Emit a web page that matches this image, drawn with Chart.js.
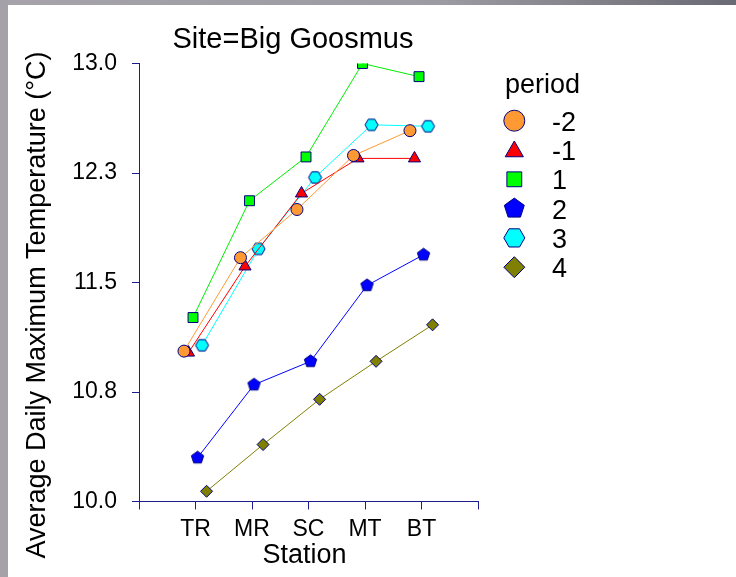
<!DOCTYPE html>
<html>
<head>
<meta charset="utf-8">
<script src="https://cdn.jsdelivr.net/npm/chart.js"></script>
<style>
  body { margin: 0; background: #fff; }
  #wrap { position: relative; width: 736px; height: 577px; overflow: hidden; }
  #topBar { position: absolute; left: 0; top: 0; width: 736px; height: 5px; background: linear-gradient(to right, #a6a4aa, #9c9aa2 60%, #6a6a74); }
  #leftBar { position: absolute; left: 0; top: 0; width: 8px; height: 577px; background: #a4a2a8; }
</style>
</head>
<body>
<div id="wrap">
  <canvas id="myChart" width="736" height="577"></canvas>
  <div id="topBar"></div>
  <div id="leftBar"></div>
</div>
<script>
const stations = ["TR", "MR", "SC", "MT", "BT"];
const periods = ["-2", "-1", "1", "2", "3", "4"];

const tempM2 = [11.03, 11.67, 12.00, 12.37, 12.54];
const tempM1 = [11.02, 11.61, 12.11, 12.35, 12.35];
const temp1 = [11.26, 12.06, 12.36, 13.00, 12.91];
const temp2 = [10.30, 10.80, 10.96, 11.48, 11.69];
const temp3 = [11.07, 11.73, 12.22, 12.58, 12.57];
const temp4 = [10.07, 10.39, 10.70, 10.96, 11.21];

const yTicks = [10.0, 10.75, 11.5, 12.25, 13.0];

const navy = "#000080";
const axisColor = "#1c1c8c";
const font = "'Liberation Sans', Arial, sans-serif";

// marker polygons for shapes Chart.js has no built-in style for
function makePoly(sides, r, fill, start) {
    const c = document.createElement("canvas");
    const size = Math.ceil(r * 2 + 4);
    c.width = size;
    c.height = size;
    const ctx = c.getContext("2d");
    drawPolyPath(ctx, size / 2, size / 2, sides, r, start);
    ctx.fillStyle = fill;
    ctx.fill();
    ctx.strokeStyle = navy;
    ctx.lineWidth = 1;
    ctx.stroke();
    return c;
}

function drawPolyPath(ctx, x, y, sides, r, start) {
    ctx.beginPath();
    for (let i = 0; i < sides; i++) {
        let a = start + (i * 2 * Math.PI) / sides;
        let px = x + r * Math.cos(a);
        let py = y + r * Math.sin(a);
        if (i == 0) ctx.moveTo(px, py);
        else ctx.lineTo(px, py);
    }
    ctx.closePath();
}

const series = [
    { values: tempM2, line: "#ff9933", fill: "#ff9933", style: "circle", radius: 6 },
    { values: tempM1, line: "#ff0000", fill: "#ff0000", style: "triangle", radius: 7 },
    { values: temp1, line: "#00ee00", fill: "#00ff00", style: "rect", radius: 7 },
    { values: temp2, line: "#0000ff", fill: "#0000ff", style: makePoly(5, 6.5, "#0000ff", -Math.PI / 2), radius: 6.5 },
    { values: temp3, line: "#00ffff", fill: "#00ffff", style: makePoly(6, 6.5, "#00ffff", 0), radius: 6.5 },
    { values: temp4, line: "#808000", fill: "#808000", style: "rectRot", radius: 6 },
];

const datasets = series.map((s, i) => {
    const dodge = (i - 2.55) * 0.08;
    return {
        label: periods[i],
        data: s.values.map((v, j) => ({ x: j + 1 + dodge, y: v })),
        borderColor: s.line,
        borderWidth: 1,
        backgroundColor: s.fill,
        pointStyle: s.style,
        pointRadius: s.radius,
        pointBackgroundColor: s.fill,
        pointBorderColor: navy,
        pointBorderWidth: 1,
        showLine: true,
        tension: 0,
    };
});

// legend markers, drawn bigger than the plot markers
function legendMarker(ctx, i, x, y) {
    const r = 10.5;
    ctx.save();
    ctx.fillStyle = series[i].fill;
    ctx.strokeStyle = navy;
    ctx.lineWidth = 1;
    if (i == 0) {
        ctx.beginPath();
        ctx.arc(x, y, r, 0, Math.PI * 2);
    } else if (i == 1) {
        drawPolyPath(ctx, x, y + 1.5, 3, r, -Math.PI / 2);
    } else if (i == 2) {
        drawPolyPath(ctx, x, y, 4, r, Math.PI / 4);
    } else if (i == 3) {
        drawPolyPath(ctx, x, y, 5, r, -Math.PI / 2);
    } else if (i == 4) {
        drawPolyPath(ctx, x, y, 6, r, 0);
    } else {
        drawPolyPath(ctx, x, y, 4, r, 0);
    }
    ctx.fill();
    ctx.stroke();
    ctx.restore();
}

const textPlugin = {
    id: "texts",
    afterDraw(chart) {
        const ctx = chart.ctx;
        ctx.save();
        ctx.fillStyle = "#000";
        ctx.textAlign = "center";
        ctx.textBaseline = "alphabetic";
        ctx.font = "29px " + font;
        ctx.fillText("Site=Big Goosmus", 293, 48);

        ctx.font = "27px " + font;
        ctx.fillText("Station", 304.5, 563);

        ctx.save();
        ctx.translate(45, 305);
        ctx.rotate(-Math.PI / 2);
        ctx.fillText("Average Daily Maximum Temperature (°C)", 0, 0);
        ctx.restore();

        ctx.textAlign = "left";
        ctx.fillText("period", 505, 93);
        for (let i = 0; i < periods.length; i++) {
            let y = 120.7 + i * 29.3;
            legendMarker(ctx, i, 514.3, y);
            ctx.fillStyle = "#000";
            ctx.fillText(periods[i], 552, y + 10);
        }
        ctx.restore();
    },
};

const myChart = document.getElementById("myChart");
new Chart(myChart, {
    type: "scatter",
    data: { datasets },
    options: {
        responsive: false,
        animation: false,
        layout: { padding: { left: 0, top: 63.5, right: 258, bottom: 0 } },
        plugins: { legend: { display: false }, tooltip: { enabled: false } },
        scales: {
            x: {
                type: "linear",
                min: 0,
                max: 6,
                afterFit: (scale) => { scale.height = 75.5; },
                afterBuildTicks: (scale) => {
                    scale.ticks = [0, 1, 2, 3, 4, 5, 6].map((v) => ({ value: v }));
                },
                ticks: {
                    callback: (v) => stations[v - 1] || "",
                    color: "#000",
                    font: { family: font, size: 23 },
                    padding: 6,
                    maxRotation: 0,
                    autoSkip: false,
                },
                grid: { drawOnChartArea: false, color: axisColor, tickLength: 8, lineWidth: 1 },
                border: { color: axisColor, width: 1 },
            },
            y: {
                min: 10,
                max: 13,
                afterFit: (scale) => { scale.width = 139; },
                afterBuildTicks: (scale) => {
                    scale.ticks = yTicks.map((v) => ({ value: v }));
                },
                ticks: {
                    callback: (v) => Number(v).toFixed(1),
                    color: "#000",
                    font: { family: font, size: 23 },
                    padding: 15,
                },
                grid: { drawOnChartArea: false, color: axisColor, tickLength: 7, lineWidth: 1 },
                border: { color: axisColor, width: 1 },
            },
        },
    },
    plugins: [textPlugin],
});
</script>
</body>
</html>
